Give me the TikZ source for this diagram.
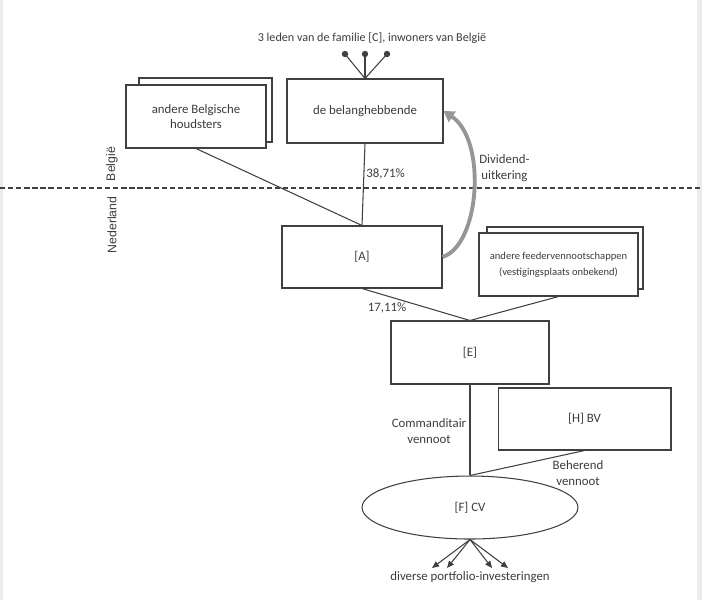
\documentclass[tikz,border=0pt]{standalone}
\usepackage{fontspec}
\setmainfont{Carlito}
\newfontfamily\landfont{Liberation Sans}
\usetikzlibrary{arrows.meta,shapes.geometric}
\definecolor{LineGrey}{RGB}{64,64,64}
\definecolor{TextGrey}{RGB}{60,60,60}
\definecolor{ArrowGrey}{RGB}{150,150,150}

\begin{document}
\begin{tikzpicture}[x=0.02cm, y=-0.02cm,
    box/.style={draw=LineGrey, line width=0.6pt, fill=white, inner sep=0pt, align=center, text=TextGrey, font=\fontsize{7.3}{9}\selectfont},
    lbl/.style={inner sep=0pt, align=center, text=TextGrey, font=\fontsize{7.3}{9}\selectfont},
    land/.style={inner sep=0pt, rotate=90, text=TextGrey, font=\landfont\fontsize{7}{8}\selectfont},
    link/.style={draw=LineGrey, line width=0.6pt}
]
    \useasboundingbox (0,0) rectangle (702,600);
    \fill[gray!15] (0,0) rectangle (3,600);
    \fill[gray!15] (697,0) rectangle (702,600);

    % Belgie
    \node[lbl, font=\fontsize{6.9}{9}\selectfont] (fam) at (372,38) {3 leden van de familie [C], inwoners van België};
    \node[box, minimum width=3.12cm, minimum height=1.28cm] (bel) at (365,111) {de belanghebbende};
    \node[box, minimum width=2.66cm, minimum height=1.28cm] (abhback) at (205.5,110) {};
    \node[box, minimum width=2.8cm, minimum height=1.26cm] (abh) at (196,116.5) {andere Belgische\\houdsters};
    \foreach \x/\n in {345/1,365/2,387/3} {
        \fill[LineGrey] (\x,54) circle (3.2) coordinate (dot\n);
        \draw[link] (dot\n) -- (bel.north);
    }

    % grens
    \draw[LineGrey, line width=0.9pt, dash pattern=on 3pt off 1.6pt] (0,188) -- (702,188);
    \node[land] (be) at (112,164) {België};
    \node[land] (nl) at (112,225) {Nederland};

    % Nederland
    \node[box, minimum width=3.2cm, minimum height=1.24cm] (A) at (362,257) {[A]};
    \node[box, minimum width=3.12cm, minimum height=1.24cm] (feedback) at (565,258) {};
    \node[box, minimum width=3.18cm, minimum height=1.26cm, font=\fontsize{6}{9}\selectfont] (feed) at (558.5,264.5) {andere feedervennootschappen\\(vestigingsplaats onbekend)};
    \node[box, minimum width=3.16cm, minimum height=1.26cm] (E) at (470,352.5) {[E]};
    \node[box, minimum width=3.46cm, minimum height=1.24cm] (H) at (584.5,419) {[H] BV};
    \node[box, ellipse, minimum width=4.32cm, minimum height=1.26cm] (F) at (470,507.5) {[F] CV};
    \node[lbl] (port) at (470,577) {diverse portfolio-investeringen};

    \draw[link] (bel.south) -- (A.north);
    \draw[link] (abh.south) -- (A.north);
    \draw[link] (A.south) -- (E.north);
    \draw[link] (feed.south) -- (E.north);
    \draw[link] (E.south) -- (F.north);
    \draw[link] (H.south) -- (F.north);
    \draw[ArrowGrey, line width=2.2pt, -{Triangle[length=6pt,width=7pt]}] (A.east) .. controls (480,245) and (487,140) .. (bel.east);
    \foreach \x in {432,447,492,508}
        \draw[link, -{Triangle[length=4pt,width=3.4pt]}] (F.south) -- (\x,568);

    \node[lbl, anchor=west] (pct1) at (366,174) {38,71\%};
    \node[lbl, anchor=west, align=left] (div) at (479,168) {Dividend-\\\,uitkering};
    \node[lbl] (pct2) at (387,308) {17,11\%};
    \node[lbl] (comm) at (429,431) {Commanditair\\vennoot};
    \node[lbl] (beh) at (578,473) {Beherend\\vennoot};
\end{tikzpicture}
\end{document}
